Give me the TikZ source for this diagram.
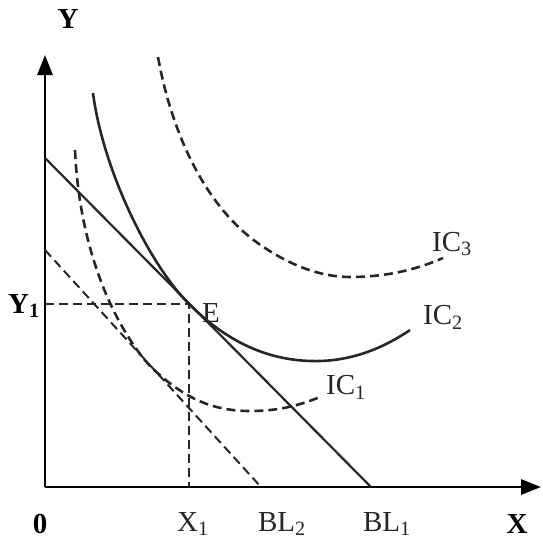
\documentclass[tikz,border=0pt]{standalone}
\usepackage{fontspec}
\setmainfont{Liberation Serif}
\usetikzlibrary{arrows.meta}
\definecolor{ink}{HTML}{262626}
\tikzset{
  axis/.style={line width=2.8pt, draw=black, -{Triangle[length=20pt,width=15pt]}},
  budget/.style={line width=2.2pt, draw=ink},
  icsolid/.style={line width=2.6pt, draw=ink},
  icdash/.style={line width=2.6pt, draw=ink, dash pattern=on 9pt off 5pt},
  guide/.style={line width=2pt, draw=ink, dash pattern=on 9pt off 5pt},
  lab/.style={font=\fontsize{29}{32}\selectfont, text=ink, inner sep=0pt},
  blab/.style={font=\bfseries\fontsize{29}{32}\selectfont, text=black, inner sep=0pt}
}
\begin{document}
\begin{tikzpicture}[x=1pt,y=-1pt]
\useasboundingbox (0,0) rectangle (542,544);
% axes
\coordinate (O) at (45,487);
\coordinate (Ytop) at (45,55);
\coordinate (Xend) at (541,487);
\draw[axis] (O) -- (Ytop);
\draw[axis] (O) -- (Xend);
% budget lines
\coordinate (BL1a) at (45,158);
\coordinate (BL1b) at (371,487);
\coordinate (BL2a) at (45,250);
\coordinate (BL2b) at (261,487);
\draw[budget] (BL1a) -- (BL1b);
\draw[guide] (BL2a) -- (BL2b);
% equilibrium guides
\coordinate (E) at (189,304);
\coordinate (Y1p) at (45,304);
\coordinate (X1p) at (189,487);
\draw[guide] (Y1p) -- (E) -- (X1p);
% indifference curves
\draw[icsolid] (93,93) .. controls (103,170) and (149,264) .. (E)
  .. controls (235,350) and (280,362) .. (320,361)
  .. controls (355,360) and (385,347) .. (410,330);
\draw[icdash] (75,150) .. controls (80,260) and (120,333) .. (150,366)
  .. controls (185,400) and (215,411) .. (250,411)
  .. controls (280,411) and (300,405) .. (320,397);
\draw[icdash] (158,57) .. controls (175,150) and (215,215) .. (262,246)
  .. controls (290,265) and (320,277) .. (350,277)
  .. controls (390,277) and (420,268) .. (443,258);
% labels
\node[blab] (ly) at (68,19) {Y};
\node[blab] (lx) at (517,524) {X};
\node[blab] (l0) at (40,524) {0};
\node[blab] (ly1) at (24,306) {Y\textsubscript{1}};
\node[lab] (le) at (211,313) {E};
\node[lab] (lx1) at (193,524) {X\textsubscript{1}};
\node[lab] (lbl2) at (282,524) {BL\textsubscript{2}};
\node[lab] (lbl1) at (387,524) {BL\textsubscript{1}};
\node[lab] (lic3) at (452,244) {IC\textsubscript{3}};
\node[lab] (lic2) at (443,317) {IC\textsubscript{2}};
\node[lab] (lic1) at (346,387) {IC\textsubscript{1}};
\end{tikzpicture}
\end{document}
